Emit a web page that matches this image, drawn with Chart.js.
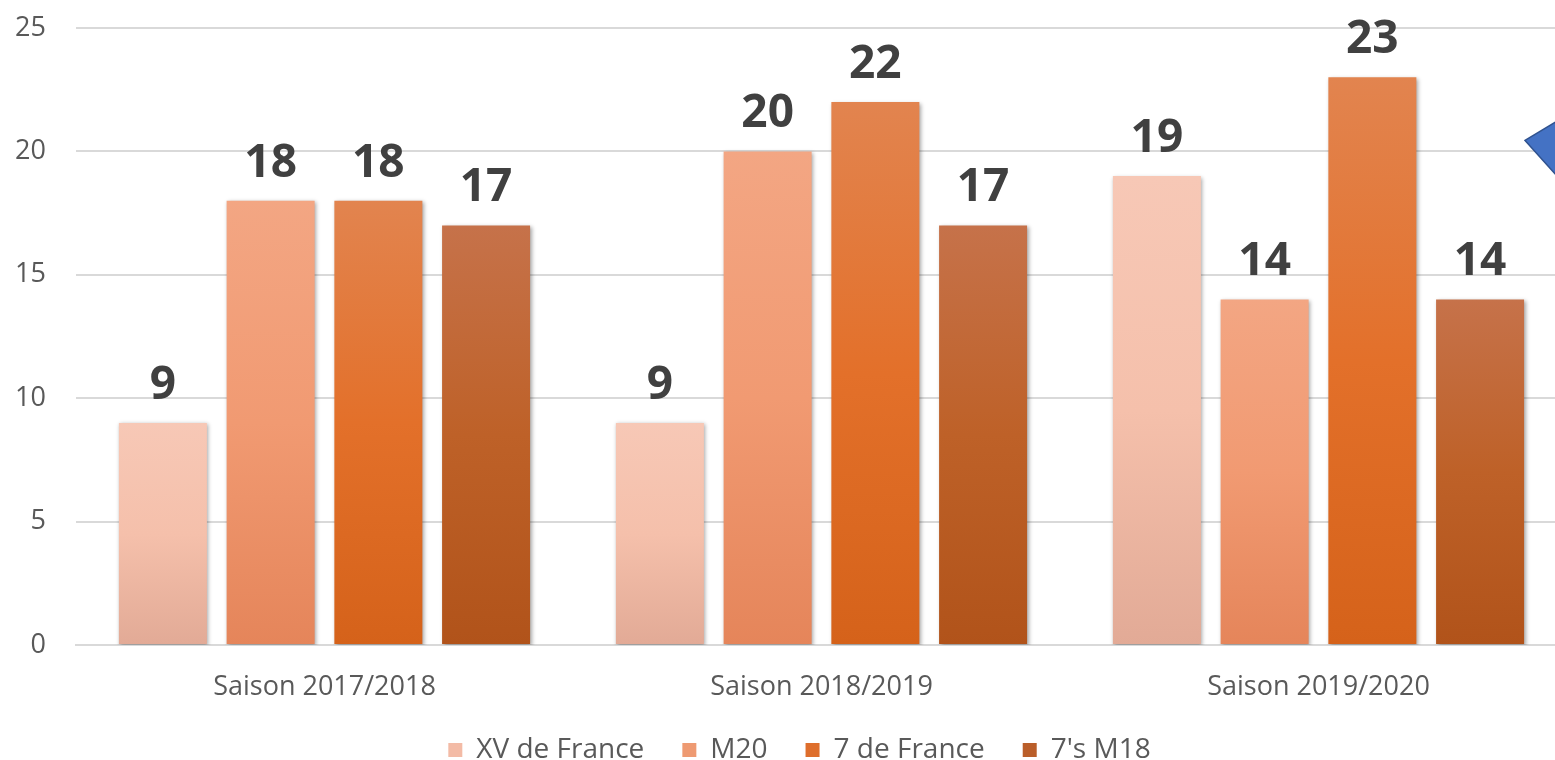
<!DOCTYPE html>
<html>
<head>
<meta charset="utf-8">
<script src="https://cdn.jsdelivr.net/npm/chart.js@4/dist/chart.umd.min.js"></script>
<style>
  html, body { margin: 0; padding: 0; background: #ffffff; overflow: hidden; }
  #wrap { width: 1555px; height: 760px; position: relative; overflow: hidden; }
  #c { position: absolute; left: 0; top: 0; }
</style>
</head>
<body>
<div id="wrap"><canvas id="c" width="1567" height="760"></canvas></div>
<script>
const categories = ["Saison 2017/2018", "Saison 2018/2019", "Saison 2019/2020"];
const seriesNames = ["XV de France", "M20", "7 de France", "7's M18"];
const xvDeFrance = [9, 9, 19];
const m20 = [18, 20, 14];
const septDeFrance = [18, 22, 23];
const septM18 = [17, 17, 14];
const yTicks = [0, 5, 10, 15, 20, 25];

const gradStops = [
  ["#F7C8B6", "#F5C0AB", "#E2AA96"],
  ["#F3A683", "#F19A72", "#E5855A"],
  ["#E2844F", "#E3702A", "#D5621A"],
  ["#C6724A", "#BE6128", "#B1531A"]
];
const legendColors = ["#F3BBA6", "#EE9A72", "#DE6E2C", "#BA5E2A"];

function barGradient(idx) {
  return function(ctx) {
    const chart = ctx.chart;
    const fallback = legendColors[idx];
    if (!chart.chartArea || ctx.type !== 'data') return fallback;
    const y = chart.scales.y;
    const top = y.getPixelForValue(ctx.raw);
    const bottom = y.getPixelForValue(0);
    if (!isFinite(top) || !isFinite(bottom) || top === bottom) return fallback;
    const g = chart.ctx.createLinearGradient(0, top, 0, bottom);
    g.addColorStop(0, gradStops[idx][0]);
    g.addColorStop(0.5, gradStops[idx][1]);
    g.addColorStop(1, gradStops[idx][2]);
    return g;
  };
}

const shadowPlugin = {
  id: 'shadow',
  beforeDatasetsDraw(chart) {
    const c = chart.ctx;
    c.save();
    c.shadowColor = 'rgba(0,0,0,0.35)';
    c.shadowBlur = 4;
    c.shadowOffsetX = 1.5;
    c.shadowOffsetY = 1.5;
  },
  afterDatasetsDraw(chart) {
    chart.ctx.restore();
    const c = chart.ctx;
    c.save();
    c.font = "bold 46px 'Open Sans'";
    c.fillStyle = '#404040';
    c.textAlign = 'center';
    c.textBaseline = 'alphabetic';
    chart.data.datasets.forEach((ds, i) => {
      const meta = chart.getDatasetMeta(i);
      meta.data.forEach((bar, j) => {
        c.fillText(String(ds.data[j]), bar.x, bar.y - 24);
      });
    });
    c.restore();
  }
};

const legendShiftPlugin = {
  id: 'legendShift',
  afterLayout(chart) {
    if (chart.legend) {
      chart.legend.left += 16;
      chart.legend.right += 16;
    }
  }
};

const trianglePlugin = {
  id: 'triangle',
  afterDraw(chart) {
    const c = chart.ctx;
    const tipX = chart.width - 42;
    const tipY = chart.scales.y.getPixelForValue(20) - 11;
    c.save();
    c.beginPath();
    c.moveTo(tipX, tipY);
    c.lineTo(tipX + 45, tipY - 27);
    c.lineTo(tipX + 45, tipY + 50);
    c.closePath();
    c.fillStyle = '#4472C4';
    c.fill();
    c.strokeStyle = '#2F528F';
    c.lineWidth = 1.5;
    c.stroke();
    c.restore();
  }
};

const seriesData = [xvDeFrance, m20, septDeFrance, septM18];

new Chart(document.getElementById('c'), {
  type: 'bar',
  data: {
    labels: categories,
    datasets: seriesNames.map((name, i) => ({
      label: name,
      data: seriesData[i],
      backgroundColor: barGradient(i),
      borderWidth: 0,
      categoryPercentage: 0.867,
      barPercentage: 0.817
    }))
  },
  options: {
    responsive: false,
    animation: false,
    devicePixelRatio: 1,
    layout: { padding: { top: 28, right: 0, left: 0, bottom: -14 } },
    plugins: {
      tooltip: { enabled: false },
      legend: {
        position: 'bottom',
        labels: {
          font: { family: "'Open Sans'", size: 28 },
          color: '#595959',
          boxWidth: 14,
          boxHeight: 14,
          padding: 38,
          generateLabels(chart) {
            return chart.data.datasets.map((ds, i) => ({
              text: ds.label,
              fillStyle: legendColors[i],
              strokeStyle: legendColors[i],
              lineWidth: 0,
              hidden: false,
              datasetIndex: i,
              fontColor: '#595959'
            }));
          }
        }
      }
    },
    scales: {
      x: {
        grid: { display: false, drawTicks: false },
        border: { display: true, color: '#D9D9D9', width: 2 },
        ticks: { font: { family: "'Open Sans'", size: 27 }, color: '#595959', padding: 26 },
        afterFit(s) { s.height = 53; s.paddingLeft = 0; s.paddingRight = 0; }
      },
      y: {
        min: 0,
        max: 25,
        afterBuildTicks(s) { s.ticks = yTicks.map(v => ({ value: v })); },
        grid: { color: '#D9D9D9', lineWidth: 2, drawTicks: false },
        border: { display: false },
        ticks: { font: { family: "'Open Sans'", size: 27 }, color: '#595959', padding: 30 },
        afterFit(s) { s.width = 76; s.paddingTop = 0; s.paddingBottom = 0; }
      }
    }
  },
  plugins: [shadowPlugin, trianglePlugin, legendShiftPlugin]
});
</script>
</body>
</html>
